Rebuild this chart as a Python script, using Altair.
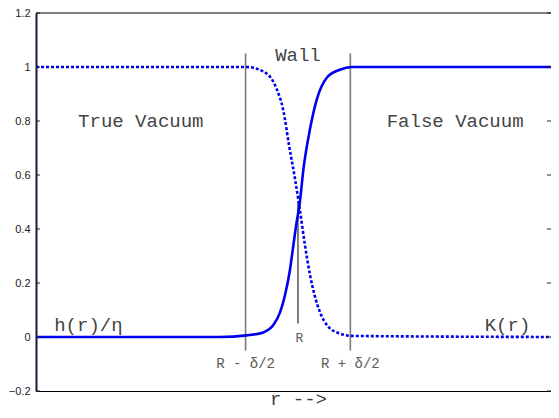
import altair as alt
import pandas as pd

# solid curve h(r)/eta
h_r = [0, 3.5, 4.02, 4.34, 4.53, 4.66, 4.75, 4.84, 4.91, 4.97, 5.03, 5.11, 5.23, 5.36, 5.55, 5.80, 6.02, 10]
h_v = [0, 0, 0.006, 0.017, 0.044, 0.092, 0.153, 0.24, 0.336, 0.42, 0.49, 0.63, 0.77, 0.88, 0.96, 0.99, 1.0, 1.0]
# dotted curve K(r)
k_r = [0, 4.02, 4.40, 4.59, 4.72, 4.83, 4.94, 5.03, 5.13, 5.23, 5.32, 5.42, 5.58, 5.80, 6.02, 10]
k_v = [1.0, 1.0, 0.976, 0.92, 0.84, 0.71, 0.59, 0.48, 0.345, 0.23, 0.153, 0.092, 0.038, 0.013, 0.004, 0.0]

y_ticks = [-0.2, 0, 0.2, 0.4, 0.6, 0.8, 1.0, 1.2]

wall_r = [4, 6]
wall_lo, wall_hi = -0.05, 1.05
R_pos = 5
R_lo, R_hi = 0.05, 0.5

big_labels = ["True Vacuum", "False Vacuum", "Wall", "h(r)/η", "K(r)"]
big_r = [2, 8, 5, 1, 9]
big_y = [0.8, 0.8, 1.045, 0.044, 0.044]

small_labels = ["R - δ/2", "R + δ/2", "R"]
small_r = [4, 6, 5.03]
small_y = [-0.1, -0.1, -0.003]
small_size = [14, 14, 13]

# visible part of the r axis (the frame continues past the right edge of the picture)
x_min, x_max = 0, 9.83
W, H = 515, 378

xs = alt.Scale(domain=[x_min, x_max], nice=False, zero=False)
ys = alt.Scale(domain=[-0.2, 1.2], nice=False, zero=False)

hdf = pd.DataFrame({"r": h_r, "v": h_v})
kdf = pd.DataFrame({"r": k_r, "v": k_v})
tdf = pd.DataFrame({"t": y_ticks})
wdf = pd.DataFrame({"r": wall_r, "lo": [wall_lo] * 2, "hi": [wall_hi] * 2})
rdf = pd.DataFrame({"r": [R_pos], "lo": [R_lo], "hi": [R_hi]})
bdf = pd.DataFrame({"label": big_labels, "r": big_r, "y": big_y})
sdf = pd.DataFrame({"label": small_labels, "r": small_r, "y": small_y, "s": small_size})
topdf = pd.DataFrame({"t": [1.2]})

base_x = alt.X("r:Q", scale=xs,
               axis=alt.Axis(title="r -->", labels=False, ticks=False, grid=False,
                             domain=True, domainColor="#000", domainWidth=1.2,
                             titleFont="Liberation Mono", titleFontSize=19, titleFontWeight="normal",
                             titleColor="#3a3a3a", titleBaseline="alphabetic", titlePadding=13,
                             titleX=(5.0 - x_min) / (x_max - x_min) * W, titleAnchor="start", titleAlign="center"))

axis_layer = alt.Chart(tdf).mark_rule(opacity=0).encode(
    y=alt.Y("t:Q", scale=ys,
            axis=alt.Axis(title=None, values=y_ticks, format="~g", grid=False, ticks=False,
                          labelFont="Liberation Sans", labelFontSize=11, labelColor="#222",
                          labelPadding=6, domainColor="#1a1a33", domainWidth=2)),
    x=alt.value(0), x2=alt.value(1),
)

xaxis_layer = alt.Chart(hdf).mark_point(opacity=0, clip=True).encode(x=base_x, y=alt.Y("v:Q", scale=ys))

top_border = alt.Chart(topdf).mark_rule(color="#000", strokeWidth=1.2).encode(
    y=alt.Y("t:Q", scale=ys), x=alt.value(0), x2=alt.value(W))

lt = alt.Chart(tdf).mark_rule(color="#222", strokeWidth=1).encode(
    y=alt.Y("t:Q", scale=ys), x=alt.value(0), x2=alt.value(4))
rt = alt.Chart(tdf).mark_rule(color="#222", strokeWidth=1).encode(
    y=alt.Y("t:Q", scale=ys), x=alt.value(W - 4), x2=alt.value(W))

walls = alt.Chart(wdf).mark_rule(color="#7a7a7a", strokeWidth=1.6).encode(
    x=alt.X("r:Q", scale=xs), y=alt.Y("lo:Q", scale=ys), y2="hi:Q")
rline = alt.Chart(rdf).mark_rule(color="#000", strokeWidth=1).encode(
    x=alt.X("r:Q", scale=xs), y=alt.Y("lo:Q", scale=ys), y2="hi:Q")

hline = alt.Chart(hdf).mark_line(color="#0000f0", strokeWidth=2.6, interpolate="monotone", clip=True).encode(
    x=alt.X("r:Q", scale=xs), y=alt.Y("v:Q", scale=ys))
kline = alt.Chart(kdf).mark_line(color="#0000f0", strokeWidth=2.6, strokeDash=[3, 2],
                                 interpolate="monotone", clip=True).encode(
    x=alt.X("r:Q", scale=xs), y=alt.Y("v:Q", scale=ys))

btext = alt.Chart(bdf).mark_text(font="Liberation Mono", fontSize=19, color="#444",
                                 baseline="middle", align="center").encode(
    x=alt.X("r:Q", scale=xs), y=alt.Y("y:Q", scale=ys), text="label:N")
stext = alt.Chart(sdf).mark_text(font="Liberation Mono", color="#5a5a5a",
                                 baseline="middle", align="center").encode(
    x=alt.X("r:Q", scale=xs), y=alt.Y("y:Q", scale=ys), text="label:N",
    size=alt.Size("s:Q", scale=None, legend=None))

chart = alt.layer(axis_layer, xaxis_layer, top_border, walls, rline, hline, kline, lt, rt,
                  btext, stext).properties(
    width=W, height=H,
    autosize=alt.AutoSizeParams(type="none"),
    padding={"left": 28, "top": 5, "right": 0, "bottom": 19},
    background="white",
).configure_view(strokeWidth=0)

chart.save("out.html", embed_options={"renderer": "svg", "actions": False})
